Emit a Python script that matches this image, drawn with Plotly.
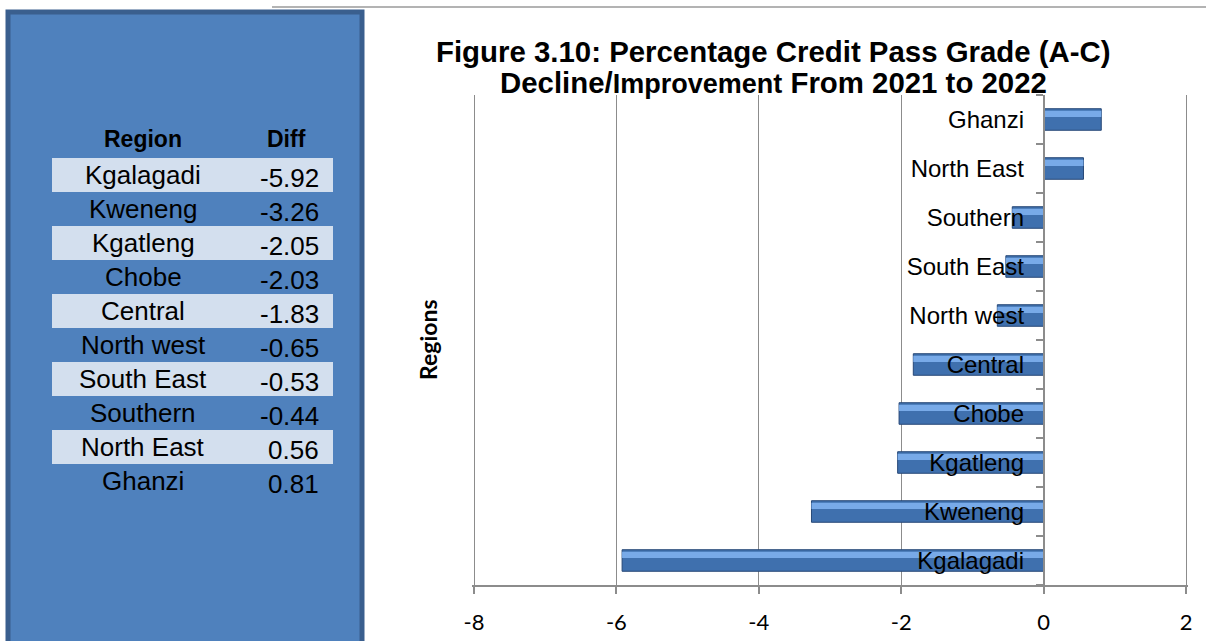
import plotly.graph_objects as go

# Regional change in credit pass rate (A-C), 2021 -> 2022
regions = ["Kgalagadi", "Kweneng", "Kgatleng", "Chobe", "Central",
           "North west", "South East", "Southern", "North East", "Ghanzi"]
diffs = [-5.92, -3.26, -2.05, -2.03, -1.83, -0.65, -0.53, -0.44, 0.56, 0.81]
x_ticks = [-8, -6, -4, -2, 0, 2]

W, H = 1206, 641


def px(x):
    return x / W


def py(y):
    return 1 - y / H


fig = go.Figure()

# main bar body
fig.add_bar(
    y=regions, x=diffs, orientation="h",
    width=0.44, offset=-0.22,
    marker=dict(color="#3F70AE", line=dict(color="#274877", width=1)),
    hoverinfo="x+y",
)
# lighter upper bevel
fig.add_bar(
    y=regions, x=diffs, orientation="h",
    width=0.13, offset=0.05,
    marker=dict(color="#78AAE8", line=dict(width=0)),
    hoverinfo="skip",
)

GRID = "#8C8C8C"
# pixel span of the value axis from its first to its last tick
x0_px, x1_px = 474, 1186
unit = (x1_px - x0_px) / (x_ticks[-1] - x_ticks[0])
pad = 0.03  # small overhang so the edge gridlines are kept
lo, hi = x_ticks[0] - pad, x_ticks[-1] + pad
zero_px = x0_px + (0 - x_ticks[0]) * unit

fig.update_layout(
    width=W, height=H,
    margin=dict(l=0, r=0, t=0, b=0, autoexpand=False),
    paper_bgcolor="white", plot_bgcolor="white",
    barmode="overlay", showlegend=False,
    font=dict(family="Liberation Sans, Arial", color="black"),
    xaxis=dict(
        domain=[px(x0_px - pad * unit), px(x1_px + pad * unit)],
        range=[lo, hi],
        tickvals=x_ticks, ticktext=[str(v) for v in x_ticks],
        showgrid=True, gridcolor=GRID, gridwidth=1.3,
        zeroline=False,
        showline=True, linecolor=GRID, linewidth=1.5,
        ticks="outside", ticklen=7, tickcolor=GRID, tickwidth=1.5,
        tickfont=dict(family="Lato, Open Sans", size=22, color="black"),
        ticklabelstandoff=10,
        automargin=False, fixedrange=True,
    ),
    yaxis=dict(
        domain=[py(585), py(95)],
        type="category", categoryorder="array", categoryarray=regions,
        range=[-0.5, len(regions) - 0.5],
        anchor="free", position=px(zero_px),
        showgrid=False, zeroline=False,
        showline=True, linecolor=GRID, linewidth=1.5,
        ticks="outside", tickson="boundaries", ticklen=7,
        tickcolor=GRID, tickwidth=1.5,
        tickfont=dict(family="Liberation Sans, Arial", size=24, color="black"),
        ticklabelstandoff=14,
        automargin=False, fixedrange=True,
    ),
)

shapes = [
    # rule across the top of the chart
    dict(type="line", xref="paper", yref="paper",
         x0=px(272), x1=1, y0=py(7), y1=py(7),
         line=dict(color="#9A9A9A", width=1.5), layer="below"),
    # side panel holding the data table
    dict(type="rect", xref="paper", yref="paper",
         x0=px(8), x1=px(362), y0=py(12), y1=py(660),
         fillcolor="#4F81BD", line=dict(color="#3A5F8E", width=5),
         layer="below"),
]
# alternating light rows of the table
for k in range(0, len(regions), 2):
    top = 158 + 34 * k
    shapes.append(dict(type="rect", xref="paper", yref="paper",
                       x0=px(52), x1=px(333), y0=py(top + 34), y1=py(top),
                       fillcolor="#D3DFEE", line=dict(width=0), layer="below"))
fig.update_layout(shapes=shapes)

ann = []
# chart title
ann.append(dict(text="<b>Figure 3.10: Percentage Credit Pass Grade (A-C)</b>",
                x=px(773), y=py(52), xref="paper", yref="paper",
                xanchor="center", yanchor="middle", showarrow=False,
                font=dict(family="Liberation Sans, Arial", size=29.4, color="black")))
ann.append(dict(text="<b>Decline/<span style='font-size:27px'>Improvement</span> From 2021 to 2022</b>",
                x=px(773), y=py(82), xref="paper", yref="paper",
                xanchor="center", yanchor="middle", showarrow=False,
                font=dict(family="Liberation Sans, Arial", size=29.4, color="black")))
# axis title
ann.append(dict(text="<b>Regions</b>", x=px(428), y=py(340),
                xref="paper", yref="paper", textangle=-90,
                xanchor="center", yanchor="middle", showarrow=False,
                font=dict(family="Lato, Open Sans", size=23, color="black")))
# table header
ann.append(dict(text="<b>Region</b>", x=px(143), y=py(139), xref="paper", yref="paper",
                xanchor="center", yanchor="middle", showarrow=False,
                font=dict(family="Liberation Sans, Arial", size=23, color="black")))
ann.append(dict(text="<b>Diff</b>", x=px(286), y=py(139), xref="paper", yref="paper",
                xanchor="center", yanchor="middle", showarrow=False,
                font=dict(family="Liberation Sans, Arial", size=23, color="black")))
# table rows
for k, (r, v) in enumerate(zip(regions, diffs)):
    ann.append(dict(text=r, x=px(143), y=py(175 + 34 * k), xref="paper", yref="paper",
                    xanchor="center", yanchor="middle", showarrow=False,
                    font=dict(family="Liberation Sans, Arial", size=26, color="black")))
    ann.append(dict(text=f"{v:.2f}", x=px(321), y=py(178 + 34 * k), xref="paper", yref="paper",
                    xanchor="right", yanchor="middle", showarrow=False,
                    font=dict(family="Liberation Sans, Arial", size=26, color="black")))
fig.update_layout(annotations=ann)

fig.write_html("out.html")
